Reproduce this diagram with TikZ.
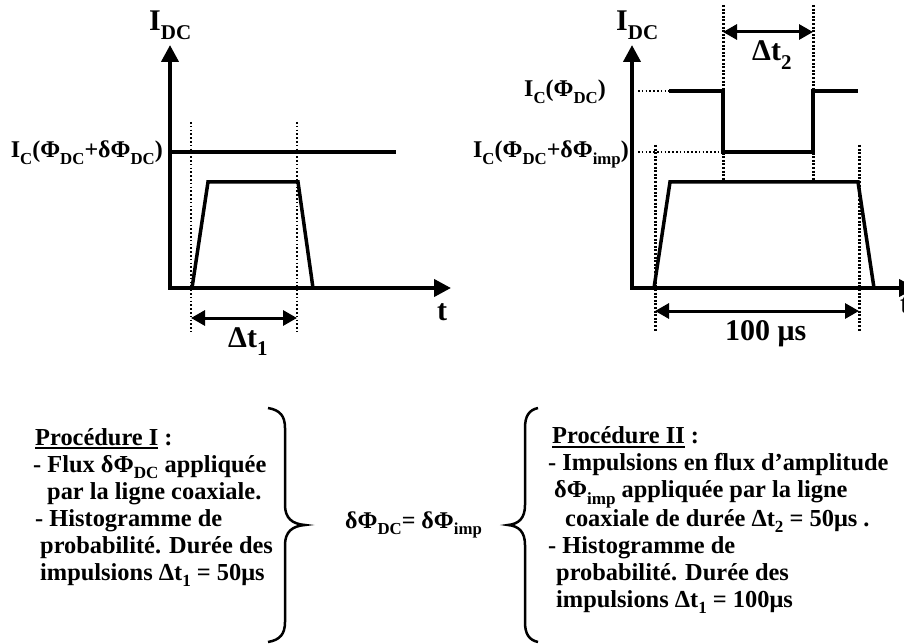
\documentclass[tikz,border=0pt]{standalone}
\usepackage{fontspec}
\setmainfont{Liberation Serif}
\usetikzlibrary{arrows.meta}
\newcommand\lo[1]{\raisebox{-0.28em}{\scalebox{0.7}{#1}}}
\newcommand\ulin[1]{\setbox0\hbox{#1}\rlap{\rule[-4pt]{\wd0}{1.8pt}}\box0}
\tikzset{
  axisln/.style={line width=4pt, line join=miter, {Triangle[length=17pt,width=17pt]}-{Triangle[length=17pt,width=17pt]}},
  sig/.style={line width=3.5pt, line join=miter},
  guidethin/.style={line width=1.6pt, dash pattern=on 1.6pt off 2.2pt},
  guidethick/.style={line width=3pt, dash pattern=on 2pt off 1.6pt},
  dim/.style={line width=3pt, {Triangle[length=14pt,width=15pt]}-{Triangle[length=14pt,width=15pt]}},
  big/.style={inner sep=0pt, font=\fontsize{30}{36}\selectfont\bfseries},
  mid/.style={inner sep=0pt, font=\fontsize{24}{29}\selectfont\bfseries},
  txt/.style={inner sep=0pt, align=left, font=\fontsize{24.4}{27}\selectfont\bfseries},
  brace/.style={line width=2.5pt}
}
\begin{document}
\begin{tikzpicture}[x=1pt,y=-1pt]
\useasboundingbox (0,0) rectangle (904,644);
% ---------- left graph ----------
\coordinate (Ly) at (170,45);
\coordinate (Lo) at (170,288);
\coordinate (Lx) at (451,288);
\coordinate (Lla) at (170,152);
\coordinate (Llb) at (396,152);
\coordinate (Lp1) at (192,288);
\coordinate (Lp2) at (208,182);
\coordinate (Lp3) at (298,182);
\coordinate (Lp4) at (313,288);
\coordinate (Lg1t) at (191,122);
\coordinate (Lg1b) at (191,332);
\coordinate (Lg2t) at (297,122);
\coordinate (Lg2b) at (297,332);
\coordinate (Lda) at (191,318);
\coordinate (Ldb) at (297,318);
\draw[guidethin] (Lg1t) -- (Lg1b);
\draw[guidethin] (Lg2t) -- (Lg2b);
\draw[sig] (Lla) -- (Llb);
\draw[sig] (Lp1) -- (Lp2) -- (Lp3) -- (Lp4);
\draw[axisln] (Ly) -- (Lo) -- (Lx);
\draw[dim] (Lda) -- (Ldb);
\node[big, anchor=base west] (LIdc) at (149,31) {I\lo{DC}};
\node[mid, anchor=base east] (LIc) at (163,158) {I\lo{C}(Φ\lo{DC}+δΦ\lo{DC})};
\node[big, anchor=base] (Lt) at (442,320) {t};
\node[big, anchor=base west] (Ldt) at (228,347) {Δt\lo{1}};
% ---------- right graph ----------
\coordinate (Ry) at (632,45);
\coordinate (Ro) at (632,288);
\coordinate (Rx) at (916,288);
\coordinate (Rg1t) at (723,5);
\coordinate (Rg1b) at (723,182);
\coordinate (Rg2t) at (813,5);
\coordinate (Rg2b) at (813,182);
\coordinate (Rda) at (723,32);
\coordinate (Rdb) at (813,32);
\coordinate (Rh0) at (638,91);
\coordinate (Rh1) at (669,91);
\coordinate (Rh2) at (723,91);
\coordinate (Rh3) at (723,152);
\coordinate (Rh4) at (813,152);
\coordinate (Rh5) at (813,91);
\coordinate (Rh6) at (858,91);
\coordinate (Rl0) at (638,152);
\coordinate (Rp1) at (654,288);
\coordinate (Rp2) at (670,182);
\coordinate (Rp3) at (858,182);
\coordinate (Rp4) at (874,288);
\coordinate (Rg3t) at (655,145);
\coordinate (Rg3b) at (655,332);
\coordinate (Rg4t) at (859,145);
\coordinate (Rg4b) at (859,332);
\coordinate (Rea) at (655,311);
\coordinate (Reb) at (859,311);
\draw[guidethick] (Rg1t) -- (Rg1b);
\draw[guidethick] (Rg2t) -- (Rg2b);
\draw[guidethick] (Rg3t) -- (Rg3b);
\draw[guidethick] (Rg4t) -- (Rg4b);
\draw[guidethin] (Rh0) -- (Rh1);
\draw[guidethin] (Rl0) -- (Rh3);
\draw[sig] (Rh1) -- (Rh2) -- (Rh3) -- (Rh4) -- (Rh5) -- (Rh6);
\draw[sig] (Rp1) -- (Rp2) -- (Rp3) -- (Rp4);
\draw[axisln] (Ry) -- (Ro) -- (Rx);
\draw[dim] (Rda) -- (Rdb);
\draw[dim] (Rea) -- (Reb);
\node[big, anchor=base west] (RIdc) at (616,31) {I\lo{DC}};
\node[mid, anchor=base east] (RIc1) at (606,97) {I\lo{C}(Φ\lo{DC})};
\node[mid, anchor=base east] (RIc2) at (629,158) {I\lo{C}(Φ\lo{DC}+δΦ\lo{imp})};
\node[big, anchor=base west] (Rdt) at (752,61) {Δt\lo{2}};
\node[big, anchor=base west] (Rus) at (725,340) {100 μs};
\node[big, anchor=base west] (Rt) at (900,313) {t};
% ---------- bottom ----------
\node[txt, anchor=base west] (P1) at (33,580) {\hspace*{2pt}\ulin{Procédure I}\hspace{6pt}:\\
- Flux δΦ\lo{DC} appliquée\\
\hspace*{14pt}par la ligne coaxiale.\\
\hspace*{2pt}- Histogramme de\\
\hspace*{7pt}probabilité. Durée des\\
\hspace*{7pt}impulsions Δt\lo{1} = 50μs};
\node[txt, anchor=base west] (P2) at (548,607) {\hspace*{4pt}\ulin{Procédure II}\hspace{6pt}:\\
- Impulsions en flux d’amplitude\\
\hspace*{6pt}δΦ\lo{imp} appliquée par la ligne\\
\hspace*{17pt}coaxiale de durée Δt\lo{2} = 50μs .\\
- Histogramme de\\
\hspace*{8pt}probabilité. Durée des\\
\hspace*{8pt}impulsions Δt\lo{1} = 100μs};
\node[mid, anchor=base west] (Eq) at (345,528) {δΦ\lo{DC}= δΦ\lo{imp}};
% braces
\coordinate (B1a) at (268,408);
\coordinate (B1b) at (285,428);
\coordinate (B1c) at (285,505);
\coordinate (B1m) at (305,525);
\coordinate (B1d) at (285,545);
\coordinate (B1e) at (285,622);
\coordinate (B1f) at (268,642);
\draw[brace] (B1a) .. controls (280,410) and (285,416) .. (B1b) -- (B1c)
  .. controls (285,518) and (292,524) .. (B1m)
  .. controls (292,526) and (285,532) .. (B1d) -- (B1e)
  .. controls (285,634) and (280,640) .. (B1f);
\coordinate (B2a) at (538,408);
\coordinate (B2b) at (525,428);
\coordinate (B2c) at (525,505);
\coordinate (B2m) at (508,525);
\coordinate (B2d) at (525,545);
\coordinate (B2e) at (525,622);
\coordinate (B2f) at (538,642);
\draw[brace] (B2a) .. controls (529,410) and (525,416) .. (B2b) -- (B2c)
  .. controls (525,518) and (519,524) .. (B2m)
  .. controls (519,526) and (525,532) .. (B2d) -- (B2e)
  .. controls (525,634) and (529,640) .. (B2f);
\end{tikzpicture}
\end{document}
